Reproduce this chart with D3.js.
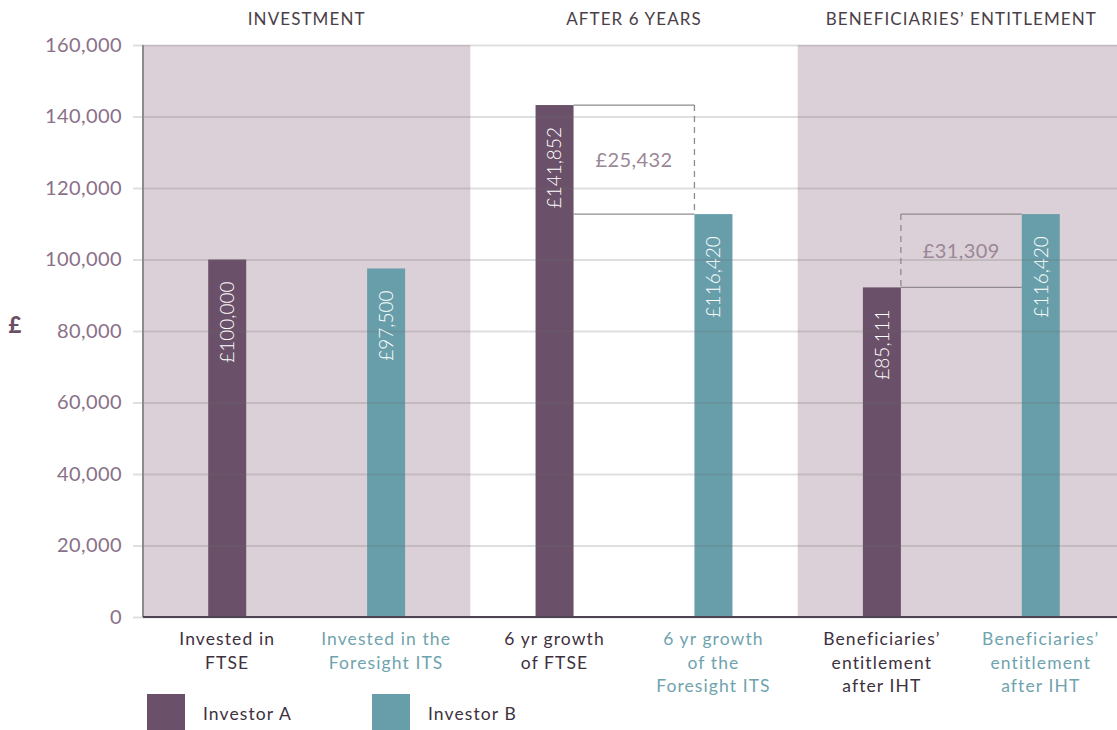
<!DOCTYPE html>
<html>
<head>
<meta charset="utf-8">
<script src="https://cdn.jsdelivr.net/npm/d3@7"></script>
<style>
  body { margin: 0; background: #fff; }
  svg { display: block; font-family: Lato, "Open Sans", sans-serif; }
</style>
</head>
<body>
<script>
// chart data
const groups = ["INVESTMENT", "AFTER 6 YEARS", "BENEFICIARIES’ ENTITLEMENT"]
const investors = ["Investor A", "Investor B"]
const shadedGroups = ["INVESTMENT", "BENEFICIARIES’ ENTITLEMENT"]
// bar heights as drawn in the picture
const valuesA = [100000, 143200, 92200]
const valuesB = [97500, 112700, 112700]
// printed values
const labelsA = ["£100,000", "£141,852", "£85,111"]
const labelsB = ["£97,500", "£116,420", "£116,420"]
const gapLabels = [null, "£25,432", "£31,309"]
const categoriesA = [["Invested in", "FTSE"], ["6 yr growth", "of FTSE"], ["Beneficiaries’", "entitlement", "after IHT"]]
const categoriesB = [["Invested in the", "Foresight ITS"], ["6 yr growth", "of the", "Foresight ITS"], ["Beneficiaries’", "entitlement", "after IHT"]]
const yTicks = [0, 20000, 40000, 60000, 80000, 100000, 120000, 140000, 160000]

function drawChart() {
  const rows = groups.flatMap((g, i) => [
    {group: g, investor: investors[0], value: valuesA[i], label: labelsA[i], category: categoriesA[i]},
    {group: g, investor: investors[1], value: valuesB[i], label: labelsB[i], category: categoriesB[i]},
  ])

  let dimensions = {
    width: 1117,
    height: 730,
    margin: {
      top: 45,
      right: 0,
      bottom: 113,
      left: 143,
    },
  }
  dimensions.boundedWidth = dimensions.width - dimensions.margin.left - dimensions.margin.right
  dimensions.boundedHeight = dimensions.height - dimensions.margin.top - dimensions.margin.bottom

  const wrapper = d3.select("body")
    .append("svg")
      .attr("width", dimensions.width)
      .attr("height", dimensions.height)

  const bounds = wrapper.append("g")
    .attr("transform", `translate(${dimensions.margin.left}, ${dimensions.margin.top})`)

  // scales
  const yScale = d3.scaleLinear()
    .domain([0, 160000])
    .range([dimensions.boundedHeight, 0])

  // last band runs a little past the right edge, as in the original
  const xGroup = d3.scaleBand()
    .domain(groups)
    .range([0, dimensions.boundedWidth + 8])

  const xInner = d3.scalePoint()
    .domain(investors)
    .range([0, xGroup.bandwidth()])
    .padding(0.53)

  const color = d3.scaleOrdinal()
    .domain(investors)
    .range(["#6a5068", "#689eaa"])

  const textColor = d3.scaleOrdinal()
    .domain(investors)
    .range(["#3d3140", "#6fa3ae"])

  const barWidth = 38
  const cx = d => xGroup(d.group) + xInner(d.investor)

  // shaded sections
  bounds.selectAll(".shade")
    .data(shadedGroups)
    .join("rect")
      .attr("class", "shade")
      .attr("x", d => xGroup(d))
      .attr("y", 0)
      .attr("width", d => Math.min(xGroup.bandwidth(), dimensions.boundedWidth - xGroup(d)))
      .attr("height", dimensions.boundedHeight)
      .attr("fill", "#dbd0d8")

  // bars
  bounds.selectAll(".bar")
    .data(rows)
    .join("rect")
      .attr("class", "bar")
      .attr("x", d => cx(d) - barWidth / 2)
      .attr("y", d => yScale(d.value))
      .attr("width", barWidth)
      .attr("height", d => dimensions.boundedHeight - yScale(d.value))
      .attr("fill", d => color(d.investor))

  // gridlines + y ticks (drawn over the bars, semi transparent)
  const yAxisGenerator = d3.axisLeft()
    .scale(yScale)
    .tickValues(yTicks)
    .tickFormat(d3.format(","))
    .tickSize(-(dimensions.boundedWidth + 10))
    .tickPadding(11)

  const yAxis = bounds.append("g")
    .attr("transform", "translate(-10, 0)")
    .call(yAxisGenerator)
  yAxis.select(".domain").remove()
  yAxis.selectAll("line")
    .attr("stroke", "rgba(110,110,110,0.22)")
    .attr("stroke-width", 2)
  yAxis.selectAll("text")
    .attr("fill", "#8a7088")
    .style("font-size", "20px")
    .style("font-weight", 400)
    .style("letter-spacing", "0.4px")
    .style("font-family", "Lato, sans-serif")

  // axis lines
  bounds.append("line")
    .attr("x1", 0).attr("x2", 0)
    .attr("y1", 0).attr("y2", dimensions.boundedHeight)
    .attr("stroke", "#8e8a8d")
    .attr("stroke-width", 2)
  bounds.append("line")
    .attr("x1", 0).attr("x2", dimensions.boundedWidth)
    .attr("y1", dimensions.boundedHeight).attr("y2", dimensions.boundedHeight)
    .attr("stroke", "#4e4350")
    .attr("stroke-width", 2)

  // value labels inside bars
  bounds.selectAll(".value")
    .data(rows)
    .join("text")
      .attr("class", "value")
      .attr("transform", d => `translate(${cx(d)}, ${yScale(d.value) + 22}) rotate(-90)`)
      .attr("text-anchor", "end")
      .attr("dy", "0.36em")
      .attr("fill", "#fff")
      .style("font-size", "19px")
      .style("font-weight", 300)
      .text(d => d.label)

  // difference brackets
  groups.forEach((g, i) => {
    if (!gapLabels[i]) return
    const a = rows[i * 2], b = rows[i * 2 + 1]
    const xa = cx(a) + barWidth / 2
    const xb = cx(b) - barWidth / 2
    const yHi = yScale(Math.max(a.value, b.value))
    const yLo = yScale(Math.min(a.value, b.value))
    const xDash = a.value > b.value ? xb : xa
    const gap = bounds.append("g")
    gap.append("line")
      .attr("x1", xa).attr("x2", xb).attr("y1", yHi).attr("y2", yHi)
    gap.append("line")
      .attr("x1", xa).attr("x2", xb).attr("y1", yLo).attr("y2", yLo)
    gap.append("line")
      .attr("x1", xDash).attr("x2", xDash).attr("y1", yHi).attr("y2", yLo)
      .attr("stroke-dasharray", "6 5")
    gap.selectAll("line")
      .attr("stroke", "#8f8a8e")
      .attr("stroke-width", 1.3)
    gap.append("text")
      .attr("x", (xa + xb) / 2)
      .attr("y", (yHi + yLo) / 2)
      .attr("dy", "0.36em")
      .attr("text-anchor", "middle")
      .attr("fill", "#9a8797")
      .style("font-size", "20px")
      .style("font-weight", 400)
      .style("letter-spacing", "0.4px")
      .text(gapLabels[i])
  })

  // section titles
  bounds.selectAll(".section")
    .data(groups)
    .join("text")
      .attr("class", "section")
      .attr("x", d => xGroup(d) + xGroup.bandwidth() / 2)
      .attr("y", -20)
      .attr("text-anchor", "middle")
      .attr("fill", "#4a3e48")
      .style("font-size", "17px")
      .style("font-weight", 400)
      .style("letter-spacing", "1.1px")
      .text(d => d)

  // category labels under bars
  const cats = bounds.selectAll(".category")
    .data(rows)
    .join("text")
      .attr("class", "category")
      .attr("text-anchor", "middle")
      .attr("fill", d => textColor(d.investor))
      .style("font-size", "17.5px")
      .style("letter-spacing", "1.1px")
  cats.selectAll("tspan")
    .data(d => d.category.map(line => ({line, x: cx(d)})))
    .join("tspan")
      .attr("x", d => d.x)
      .attr("y", (d, i) => dimensions.boundedHeight + 28 + i * 23.5)
      .text(d => d.line)

  // y axis label
  wrapper.append("text")
    .attr("x", 15)
    .attr("y", dimensions.margin.top + yScale(80000) - 6)
    .attr("dy", "0.36em")
    .attr("text-anchor", "middle")
    .attr("fill", "#6b4f66")
    .style("font-size", "22px")
    .style("font-weight", 900)
    .text("£")

  // legend
  const legend = wrapper.append("g")
    .attr("transform", "translate(147, 694)")
  const items = legend.selectAll("g")
    .data(investors)
    .join("g")
      .attr("transform", (d, i) => `translate(${i * 225}, 0)`)
  items.append("rect")
    .attr("width", 38)
    .attr("height", 36)
    .attr("fill", d => color(d))
  items.append("text")
    .attr("x", 56)
    .attr("y", 26)
    .attr("fill", "#3d3140")
    .style("font-size", "17.5px")
    .style("letter-spacing", "1.1px")
    .text(d => d)
}
drawChart()
</script>
</body>
</html>
